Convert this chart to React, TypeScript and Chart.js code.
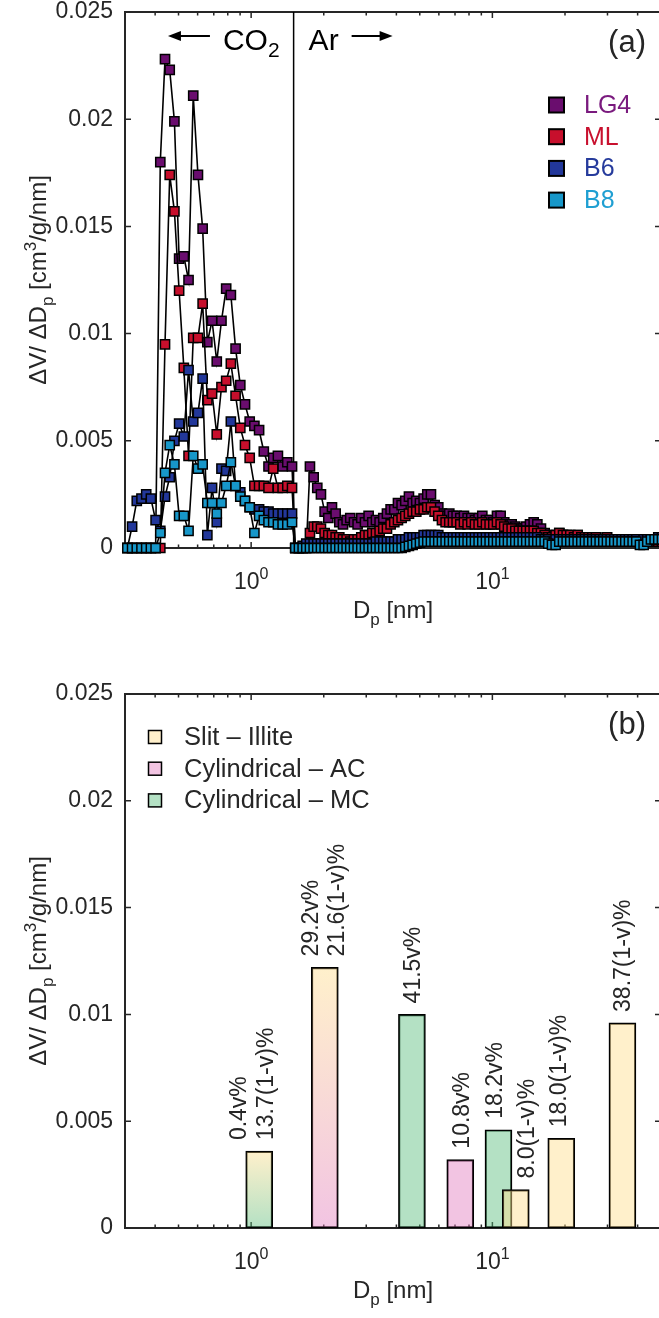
import React, { useEffect, useRef } from 'react';
import { Chart, registerables } from 'chart.js';

Chart.register(...registerables);

// ---------------- Panel (a): pore size distributions ----------------
// CO2 branch (pore widths in nm)
const co2Dp = [0.3069, 0.321, 0.3357, 0.3511, 0.3673, 0.3841, 0.4018, 0.4202, 0.4395, 0.4597, 0.4808, 0.5029, 0.526, 0.5502, 0.5754, 0.6019, 0.6295, 0.6584, 0.6887, 0.7203, 0.7534, 0.788, 0.8241, 0.862, 0.9016, 0.943, 0.9863, 1.0316, 1.0789, 1.1285, 1.1803, 1.2345, 1.2912, 1.3505, 1.4125, 1.4774];
// Ar branch (pore widths in nm)
const arDp = [1.524, 1.578, 1.635, 1.693, 1.753, 1.816, 1.88, 1.947, 2.017, 2.089, 2.163, 2.24, 2.32, 2.403, 2.488, 2.576, 2.668, 2.763, 2.862, 2.964, 3.069, 3.179, 3.292, 3.409, 3.53, 3.656, 3.786, 3.921, 4.061, 4.205, 4.355, 4.51, 4.671, 4.837, 5.009, 5.188, 5.373, 5.564, 5.762, 5.967, 6.18, 6.4, 6.628, 6.864, 7.108, 7.362, 7.624, 7.895, 8.177, 8.468, 8.77, 9.082, 9.406, 9.741, 10.09, 10.45, 10.82, 11.2, 11.6, 12.02, 12.45, 12.89, 13.35, 13.82, 14.32, 14.83, 15.36, 15.9, 16.47, 17.05, 17.66, 18.29, 18.94, 19.62, 20.32, 21.04, 21.79, 22.57, 23.37, 24.2, 25.06, 25.96, 26.88, 27.84, 28.83, 29.85, 30.92, 32.02, 33.16, 34.34, 35.56, 36.83, 38.14, 39.5, 40.9, 42.36, 43.87, 45.43, 47.05, 48.72, 50.46];

const lg4Co2 = [0, 0, 0, 0, 0, 0, 0, 0.018, 0.0228, 0.0223, 0.0199, 0.0135, 0.0136, 0.0125, 0.0211, 0.0174, 0.0149, 0.0096, 0.0106, 0.0087, 0.0106, 0.0121, 0.0118, 0.0093, 0.0076, 0.0067, 0.0059, 0.0057, 0.0055, 0.0045, 0.0038, 0.0042, 0.0043, 0.0038, 0.004, 0.0038];
const mlCo2 = [0, 0, 0, 0, 0, 0, 0, 0, 0.0095, 0.0174, 0.0157, 0.012, 0.0084, 0.0043, 0.0098, 0.0098, 0.0114, 0.0069, 0.0072, 0.0053, 0.0075, 0.0078, 0.0086, 0.0071, 0.0056, 0.0048, 0.0042, 0.0029, 0.0029, 0.0029, 0.0028, 0.0037, 0.0028, 0.0028, 0.0029, 0.0028];
const b6Co2 = [0, 0.001, 0.0022, 0.0023, 0.0025, 0.0023, 0.0013, 0.0008, 0.0024, 0.0033, 0.005, 0.0058, 0.0052, 0.0083, 0.0059, 0.0063, 0.0079, 0.0006, 0.0028, 0.0012, 0.0037, 0.0036, 0.0059, 0.0029, 0.0026, 0.0022, 0.0019, 0.0018, 0.0018, 0.0017, 0.0017, 0.0016, 0.0016, 0.0016, 0.0016, 0.0016];
const b8Co2 = [0, 0, 0, 0, 0, 0, 0, 0.0007, 0.0035, 0.0048, 0.0039, 0.0015, 0.0015, 0.0008, 0.0043, 0.0037, 0.0039, 0.0021, 0.0021, 0.0016, 0.0021, 0.0029, 0.004, 0.0029, 0.0024, 0.0022, 0.0019, 0.0007, 0.0015, 0.0013, 0.0012, 0.0012, 0.0011, 0.0011, 0.0011, 0.0012];

const lg4Ar = [0, 0, 0, 0, 0.0038, 0.0033, 0.0028, 0.0025, 0.0017,
  0.0014, 0.0019, 0.0016, 0.0012, 0.0011, 0.0013, 0.0014, 0.0012, 0.0011, 0.0014,
  0.0012, 0.0015, 0.0012, 0.0013, 0.0012, 0.0014, 0.0016, 0.0018, 0.0018, 0.0021,
  0.002, 0.0022, 0.0024, 0.0021, 0.0022, 0.0021, 0.0023, 0.0025, 0.0025, 0.002,
  0.0019, 0.0016, 0.0015, 0.0016, 0.0015, 0.0015, 0.0014, 0.0015, 0.0014, 0.0014,
  0.0013, 0.0014, 0.0015, 0.0013, 0.0013, 0.0012, 0.0015, 0.0015, 0.0012, 0.0011,
  0.0011, 0.001, 0.0009, 0.0009, 0.001, 0.0011, 0.0012, 0.0011, 0.0009, 0.0007,
  0.0006, 0.0005, 0.0006, 0.0007, 0.0006, 0.0006, 0.0005, 0.0005, 0.0006, 0.0005,
  0.0005, 0.0004, 0.0005, 0.0005, 0.0004, 0.0004, 0.0005, 0.0004, 0.0004, 0.0003,
  0.0004, 0.0003, 0.0003, 0.0003, 0.0003, 0.0003, 0.0003, 0.0003, 0.0003, 0.0004,
  0.0004, 0.0004];
const mlAr = [0, 0, 0, 0, 0.0007, 0.001, 0.001, 0.0009, 0.0007,
  0.0006, 0.0006, 0.0005, 0.0005, 0.0004, 0.0004, 0.0003, 0.0004, 0.0004, 0.0005,
  0.0006, 0.0006, 0.0007, 0.0007, 0.0008, 0.0009, 0.0009, 0.0011, 0.0012, 0.0013,
  0.0014, 0.0015, 0.0016, 0.0017, 0.0017, 0.0018, 0.0018, 0.0019, 0.0019, 0.0017,
  0.0015, 0.0013, 0.0012, 0.0012, 0.0012, 0.0012, 0.0011, 0.0012, 0.0011, 0.0012,
  0.0011, 0.0011, 0.0012, 0.0011, 0.0011, 0.0011, 0.0012, 0.0011, 0.001, 0.0009,
  0.0009, 0.0008, 0.0008, 0.0008, 0.0008, 0.0008, 0.0008, 0.0007, 0.0007, 0.0006,
  0.0005, 0.0005, 0.0006, 0.0007, 0.0006, 0.0006, 0.0006, 0.0005, 0.0006, 0.0005,
  0.0005, 0.0005, 0.0005, 0.0005, 0.0004, 0.0004, 0.0005, 0.0004, 0.0004, 0.0004,
  0.0004, 0.0004, 0.0003, 0.0003, 0.0003, 0.0003, 0.0003, 0.0003, 0.0003, 0.0003,
  0.0003, 0.0003];
const b6Ar = [0, 0, 0.0001, 0.0002, 0.0002, 0.0002, 0.0002, 0.0002, 0.0002,
  0.0002, 0.0002, 0.0002, 0.0002, 0.0002, 0.0002, 0.0002, 0.0002, 0.0002, 0.0002,
  0.0002, 0.0002, 0.0002, 0.0003, 0.0003, 0.0003, 0.0003, 0.0003, 0.0003, 0.0004,
  0.0004, 0.0004, 0.0005, 0.0005, 0.0005, 0.0005, 0.0006, 0.0006, 0.0006, 0.0006,
  0.0006, 0.0005, 0.0005, 0.0005, 0.0005, 0.0005, 0.0005, 0.0005, 0.0005, 0.0005,
  0.0005, 0.0005, 0.0005, 0.0005, 0.0005, 0.0005, 0.0005, 0.0005, 0.0005, 0.0005,
  0.0005, 0.0005, 0.0005, 0.0005, 0.0005, 0.0005, 0.0005, 0.0005, 0.0004, 0.0004,
  0.0004, 0.0003, 0.0004, 0.0004, 0.0004, 0.0004, 0.0004, 0.0004, 0.0004, 0.0004,
  0.0004, 0.0004, 0.0004, 0.0004, 0.0004, 0.0004, 0.0004, 0.0004, 0.0004, 0.0004,
  0.0004, 0.0004, 0.0004, 0.0004, 0.0004, 0.0003, 0.0004, 0.0004, 0.0004, 0.0004,
  0.0005, 0.0005];
const b8Ar = [0, 0, 0, 0, 0, 0, 0, 0, 0,
  0, 0, 0, 0, 0, 0, 0, 0, 0, 0,
  0, 0, 0, 0, 0, 0, 0, 0, 0, 0,
  0, 0.00005, 0.0001, 0.00015, 0.0002, 0.00025, 0.0003, 0.0003, 0.0003, 0.0003,
  0.0003, 0.0003, 0.0003, 0.0003, 0.0003, 0.0003, 0.0003, 0.0003, 0.0003, 0.0003,
  0.0003, 0.0003, 0.0003, 0.0003, 0.0003, 0.0003, 0.0003, 0.0003, 0.0003, 0.0003,
  0.0003, 0.0003, 0.0003, 0.0003, 0.0003, 0.0003, 0.0003, 0.0003, 0.0003, 0.0003,
  0.0002, 0.00015, 0.00015, 0.0003, 0.0003, 0.0003, 0.0003, 0.0003, 0.0003, 0.0003,
  0.0003, 0.0003, 0.0003, 0.0003, 0.0003, 0.0003, 0.0003, 0.0003, 0.0003, 0.0003,
  0.0003, 0.0003, 0.0003, 0.0003, 0.0003, 0.00015, 0.00015, 0.0003, 0.0004, 0.0004,
  0.0004, 0.0004];

const sampleNames = ['LG4', 'ML', 'B6', 'B8'];
const gasSwitchDp = 1.5;

// ---------------- Panel (b): pore model bars ----------------
const barDp = [1.08, 2.02, 4.64, 7.36, 10.6, 12.5, 19.3, 34.6];
const barValue = [0.0036, 0.0122, 0.01, 0.0032, 0.0046, 0.0018, 0.0042, 0.0096];
const barBottomType = ['MC', 'AC', 'MC', 'AC', 'MC', 'Slit', 'Slit', 'Slit'];
const barTopType = ['Slit', 'Slit', 'MC', 'AC', 'MC', 'Slit', 'Slit', 'Slit'];
const barLabels = [
  ['0.4v%', '13.7(1-v)%'],
  ['29.2v%', '21.6(1-v)%'],
  ['41.5v%'],
  ['10.8v%'],
  ['18.2v%'],
  ['8.0(1-v)%'],
  ['18.0(1-v)%'],
  ['38.7(1-v)%'],
];
const poreTypes = ['Slit', 'AC', 'MC'];
const poreNames = ['Slit \u2013 Illite', 'Cylindrical \u2013 AC', 'Cylindrical \u2013 MC'];

// ---------------- Axis ticks ----------------
const yTicks = [0, 0.005, 0.01, 0.015, 0.02, 0.025];
const yTickLabels = ['0', '0.005', '0.01', '0.015', '0.02', '0.025'];
const xMajorTicks = [1, 10];
const xMajorExponents = ['0', '1'];
const xMinorTicks = [0.4, 0.5, 0.6, 0.7, 0.8, 0.9, 2, 3, 4, 5, 6, 7, 8, 9, 20, 30, 40];

// ---------------- Styles ----------------
const FONT = '"Liberation Sans", Arial, Helvetica, sans-serif';
const INK = '#262626';
const sampleFill = ['#6a0d6e', '#c70f2c', '#22379a', '#1797c9'];
const sampleText = ['#7a1a7e', '#c8102e', '#263b9c', '#1f9fd2'];
const poreFill: Record<string, string> = {
  Slit: 'rgba(255,222,140,0.45)',
  AC: 'rgba(226,124,191,0.45)',
  MC: 'rgba(88,188,124,0.45)',
};
const barLabelDx = [[-20, 7], [-13, 13], [2], [2], [-3], [12], [-2], [1]];

type Part = { t: string; s: number; dy?: number };

function richWidth(ctx: CanvasRenderingContext2D, parts: Part[]) {
  let w = 0;
  for (const p of parts) {
    ctx.font = `${p.s}px ${FONT}`;
    w += ctx.measureText(p.t).width;
  }
  return w;
}
function drawRich(ctx: CanvasRenderingContext2D, parts: Part[], x: number, y: number) {
  let cx = x;
  ctx.textAlign = 'left';
  ctx.textBaseline = 'alphabetic';
  for (const p of parts) {
    ctx.font = `${p.s}px ${FONT}`;
    ctx.fillText(p.t, cx, y + (p.dy || 0));
    cx += ctx.measureText(p.t).width;
  }
}

function drawFrame(chart: any) {
  const { ctx, chartArea: a, scales } = chart;
  const xs = scales.x;
  const ys = scales.y;
  ctx.save();
  ctx.strokeStyle = INK;
  ctx.lineWidth = 2;
  ctx.beginPath();
  ctx.rect(a.left, a.top, a.right - a.left, a.bottom - a.top);
  ctx.stroke();
  ctx.lineWidth = 1.5;
  ctx.beginPath();
  for (const v of yTicks) {
    const y = ys.getPixelForValue(v);
    ctx.moveTo(a.left, y); ctx.lineTo(a.left + 6, y);
    ctx.moveTo(a.right, y); ctx.lineTo(a.right - 6, y);
  }
  for (const v of xMajorTicks) {
    const x = xs.getPixelForValue(v);
    ctx.moveTo(x, a.bottom); ctx.lineTo(x, a.bottom - 6);
    ctx.moveTo(x, a.top); ctx.lineTo(x, a.top + 6);
  }
  for (const v of xMinorTicks) {
    const x = xs.getPixelForValue(v);
    ctx.moveTo(x, a.bottom); ctx.lineTo(x, a.bottom - 3.5);
    ctx.moveTo(x, a.top); ctx.lineTo(x, a.top + 3.5);
  }
  ctx.stroke();
  ctx.restore();
}

function drawAxisText(chart: any) {
  const { ctx, chartArea: a, scales } = chart;
  const xs = scales.x;
  const ys = scales.y;
  ctx.save();
  ctx.fillStyle = INK;
  ctx.font = `23px ${FONT}`;
  ctx.textAlign = 'right';
  ctx.textBaseline = 'middle';
  yTicks.forEach((v, i) => ctx.fillText(yTickLabels[i], a.left - 12, ys.getPixelForValue(v)));
  xMajorTicks.forEach((v, i) => {
    const parts: Part[] = [{ t: '10', s: 23 }, { t: xMajorExponents[i], s: 16, dy: -10 }];
    const w = richWidth(ctx, parts);
    drawRich(ctx, parts, xs.getPixelForValue(v) - w / 2, a.bottom + 41);
  });
  const xt: Part[] = [{ t: 'D', s: 24 }, { t: 'p', s: 17, dy: 7 }, { t: ' [nm]', s: 24 }];
  const xw = richWidth(ctx, xt);
  drawRich(ctx, xt, (a.left + a.right) / 2 - xw / 2, a.bottom + 70);
  const yt: Part[] = [
    { t: '\u0394V/ \u0394D', s: 24 }, { t: 'p', s: 17, dy: 7 }, { t: ' [cm', s: 24 },
    { t: '3', s: 17, dy: -10 }, { t: '/g/nm]', s: 24 },
  ];
  const yw = richWidth(ctx, yt);
  ctx.translate(46, (a.top + a.bottom) / 2);
  ctx.rotate(-Math.PI / 2);
  drawRich(ctx, yt, -yw / 2, 0);
  ctx.restore();
}

function drawTag(chart: any, tag: string) {
  const { ctx, chartArea: a } = chart;
  ctx.save();
  ctx.fillStyle = INK;
  ctx.font = `31px ${FONT}`;
  ctx.textAlign = 'right';
  ctx.textBaseline = 'alphabetic';
  ctx.fillText(tag, 646, a.top + 40);
  ctx.restore();
}

function arrow(ctx: CanvasRenderingContext2D, x0: number, x1: number, y: number) {
  const dir = Math.sign(x1 - x0);
  ctx.beginPath();
  ctx.moveTo(x0, y);
  ctx.lineTo(x1 - dir * 10, y);
  ctx.stroke();
  ctx.beginPath();
  ctx.moveTo(x1, y);
  ctx.lineTo(x1 - dir * 13, y - 5);
  ctx.lineTo(x1 - dir * 13, y + 5);
  ctx.closePath();
  ctx.fill();
}

const panelA = {
  id: 'panelA',
  beforeDatasetsDraw(chart: any) {
    drawFrame(chart);
    const { ctx, chartArea: a, scales } = chart;
    const bx = scales.x.getPixelForValue(gasSwitchDp);
    ctx.save();
    ctx.strokeStyle = '#000';
    ctx.lineWidth = 1.5;
    ctx.beginPath();
    ctx.moveTo(bx, a.top);
    ctx.lineTo(bx, a.bottom);
    ctx.stroke();
    ctx.restore();
  },
  afterDraw(chart: any) {
    drawAxisText(chart);
    drawTag(chart, '(a)');
    const { ctx, chartArea: a, scales } = chart;
    const bx = scales.x.getPixelForValue(gasSwitchDp);
    ctx.save();
    ctx.fillStyle = '#000';
    ctx.strokeStyle = '#000';
    ctx.lineWidth = 2;
    const base = a.top + 38;
    const co: Part[] = [{ t: 'CO', s: 30 }, { t: '2', s: 21, dy: 7 }];
    const cw = richWidth(ctx, co);
    const cx = bx - 14 - cw;
    drawRich(ctx, co, cx, base);
    arrow(ctx, cx - 13, cx - 55, a.top + 24);
    ctx.font = `30px ${FONT}`;
    const ax = bx + 15;
    ctx.fillText('Ar', ax, base);
    const aw = ctx.measureText('Ar').width;
    arrow(ctx, ax + aw + 13, ax + aw + 54, a.top + 24);
    // legend
    sampleNames.forEach((n, i) => {
      const y = a.top + 93 + i * 31.7;
      ctx.fillStyle = sampleFill[i];
      ctx.fillRect(549, y - 7.5, 15, 15);
      ctx.strokeStyle = '#000';
      ctx.lineWidth = 2;
      ctx.strokeRect(549, y - 7.5, 15, 15);
      ctx.fillStyle = sampleText[i];
      ctx.font = `25px ${FONT}`;
      ctx.textAlign = 'left';
      ctx.textBaseline = 'middle';
      ctx.fillText(n, 584, y + 1);
    });
    ctx.restore();
  },
};

const panelB = {
  id: 'panelB',
  beforeDatasetsDraw(chart: any) {
    drawFrame(chart);
  },
  afterDraw(chart: any) {
    drawAxisText(chart);
    drawTag(chart, '(b)');
    const { ctx, chartArea: a, scales } = chart;
    ctx.save();
    poreNames.forEach((n, i) => {
      const y = a.top + 43 + i * 31.7;
      ctx.fillStyle = '#fff';
      ctx.fillRect(148.5, y - 6.5, 13, 13);
      ctx.fillStyle = poreFill[poreTypes[i]];
      ctx.fillRect(148.5, y - 6.5, 13, 13);
      ctx.strokeStyle = '#000';
      ctx.lineWidth = 1.5;
      ctx.strokeRect(148.5, y - 6.5, 13, 13);
      ctx.fillStyle = INK;
      ctx.font = `25.5px ${FONT}`;
      ctx.textAlign = 'left';
      ctx.textBaseline = 'middle';
      ctx.fillText(n, 184, y + 1);
    });
    ctx.fillStyle = INK;
    ctx.font = `23px ${FONT}`;
    barLabels.forEach((lines, i) => {
      const cx = scales.x.getPixelForValue(barDp[i]);
      const top = scales.y.getPixelForValue(barValue[i]) - 11;
      lines.forEach((t, j) => {
        ctx.save();
        ctx.translate(cx + barLabelDx[i][j], top);
        ctx.rotate(-Math.PI / 2);
        ctx.textAlign = 'left';
        ctx.textBaseline = 'middle';
        ctx.fillText(t, 0, 0);
        ctx.restore();
      });
    });
    ctx.restore();
  },
};

export default function App() {
  const topRef = useRef<HTMLCanvasElement>(null);
  const botRef = useRef<HTMLCanvasElement>(null);

  useEffect(() => {
    const seriesCo2 = [lg4Co2, mlCo2, b6Co2, b8Co2];
    const seriesAr = [lg4Ar, mlAr, b6Ar, b8Ar];
    const chartA = new Chart(topRef.current as HTMLCanvasElement, {
      type: 'line',
      data: {
        datasets: sampleNames.map((name, i) => ({
          label: name,
          data: [
            ...co2Dp.map((x, j) => ({ x, y: seriesCo2[i][j] })),
            ...arDp.map((x, j) => ({ x, y: seriesAr[i][j] })),
          ],
          borderColor: '#000',
          borderWidth: 1.6,
          pointStyle: 'rect',
          pointRadius: 6.5,
          pointBorderWidth: 1.5,
          pointBorderColor: '#000',
          pointBackgroundColor: sampleFill[i],
          tension: 0,
          clip: false as any,
          order: 4 - i,
        })),
      },
      options: {
        responsive: false,
        animation: false,
        devicePixelRatio: 1,
        events: [],
        layout: { padding: { left: 125, top: 12, right: 9, bottom: 102 } },
        plugins: { legend: { display: false }, tooltip: { enabled: false } },
        scales: {
          x: { type: 'logarithmic', min: 0.3, max: 50, display: false, bounds: 'data' },
          y: { type: 'linear', min: 0, max: 0.025, display: false },
        },
      },
      plugins: [panelA],
    } as any);

    const chartB = new Chart(botRef.current as HTMLCanvasElement, {
      type: 'bar',
      data: {
        datasets: [
          {
            label: 'pores',
            data: barDp.map((x, i) => ({ x, y: barValue[i] })),
            backgroundColor: (c: any) => {
              const i = c.dataIndex;
              if (i === undefined) return poreFill.Slit;
              const top = poreFill[barTopType[i]];
              const bottom = poreFill[barBottomType[i]];
              if (top === bottom) return top;
              const ch = c.chart;
              const ys = ch.scales && ch.scales.y;
              if (!ys || !ch.chartArea) return top;
              const y0 = ys.getPixelForValue(0);
              const y1 = ys.getPixelForValue(barValue[i]);
              const g = ch.ctx.createLinearGradient(0, y0, 0, y1);
              g.addColorStop(0, bottom);
              g.addColorStop(1, top);
              return g;
            },
            borderColor: '#000',
            borderWidth: 1.5,
            borderSkipped: false,
            barThickness: 27,
          },
        ],
      },
      options: {
        responsive: false,
        animation: false,
        devicePixelRatio: 1,
        events: [],
        layout: { padding: { left: 125, top: 36, right: 9, bottom: 90 } },
        plugins: { legend: { display: false }, tooltip: { enabled: false } },
        scales: {
          x: { type: 'logarithmic', min: 0.3, max: 50, display: false, offset: false, bounds: 'data' },
          y: { type: 'linear', min: 0, max: 0.025, display: false },
        },
      },
      plugins: [panelB],
    } as any);

    return () => {
      chartA.destroy();
      chartB.destroy();
    };
  }, []);

  return (
    <div style={{ position: 'absolute', left: 0, top: 0, width: 659, height: 1318, overflow: 'hidden', background: '#fff' }}>
      <canvas ref={topRef} width={670} height={650} style={{ position: 'absolute', left: 0, top: 0, width: 670, height: 650 }} />
      <canvas ref={botRef} width={670} height={660} style={{ position: 'absolute', left: 0, top: 658, width: 670, height: 660 }} />
    </div>
  );
}
